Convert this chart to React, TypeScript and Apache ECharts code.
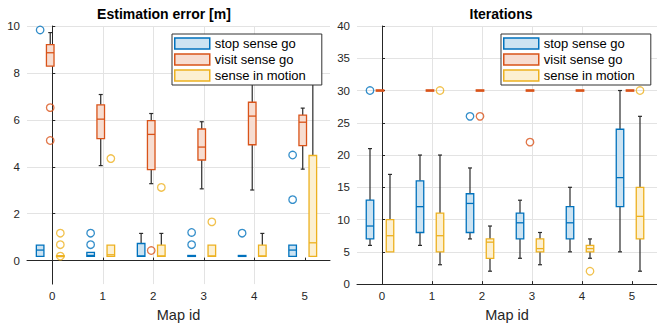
import React, { useEffect, useRef } from "react";
import * as echarts from "echarts";

// ---------- data ----------
const mapIds = [0, 1, 2, 3, 4, 5];
const seriesNames = ["stop sense go", "visit sense go", "sense in motion"];

// Estimation error [m]: [min, q1, median, q3, max] per map id
const errStop = [
  [0.18, 0.18, 0.45, 0.66, 0.66],
  [0.18, 0.18, 0.22, 0.35, 0.35],
  [0.18, 0.18, 0.2, 0.73, 1.16],
  [0.18, 0.18, 0.2, 0.22, 0.22],
  [0.18, 0.18, 0.2, 0.22, 0.22],
  [0.18, 0.18, 0.45, 0.66, 0.66],
];
const errVisit = [
  [8.29, 8.29, 8.86, 9.21, 9.72],
  [4.05, 5.2, 6.03, 6.64, 7.08],
  [3.28, 3.88, 5.38, 5.97, 6.27],
  [3.06, 4.29, 4.84, 5.61, 5.92],
  [3.01, 4.94, 6.16, 6.75, 8.6],
  [3.9, 4.9, 5.9, 6.2, 6.5],
];
const errMotion = [
  [0.17, 0.17, 0.19, 0.21, 0.21],
  [0.18, 0.18, 0.25, 0.66, 0.66],
  [0.18, 0.18, 0.2, 0.66, 1.16],
  [0.18, 0.18, 0.2, 0.66, 0.66],
  [0.18, 0.18, 0.2, 0.66, 1.16],
  [0.18, 0.18, 0.76, 4.48, 9.0],
];
const errStopOut = [[9.83], [1.17, 0.68], [], [1.2, 0.68], [1.17], [4.5, 2.6]];
const errVisitOut = [[6.52, 5.12], [], [0.43], [], [], []];
const errMotionOut = [[1.17, 0.68, 0.19], [4.35], [3.12], [1.65], [], []];

// Iterations: [min, q1, median, q3, max] per map id
const itStop = [
  [6, 7, 9, 13, 21],
  [6, 8, 12, 16, 20],
  [7, 8, 12.5, 14, 18],
  [4, 7, 9.5, 11, 13],
  [5, 7, 9.5, 12, 15],
  [5, 12, 16.5, 24, 30],
];
const itVisit = [
  [30, 29.9, 30, 30.1, 30],
  [30, 29.9, 30, 30.1, 30],
  [30, 29.9, 30, 30.1, 30],
  [30, 29.9, 30, 30.1, 30],
  [30, 29.9, 30, 30.1, 30],
  [30, 29.9, 30, 30.1, 30],
];
const itMotion = [
  [5, 5, 7.5, 10, 17],
  [3, 5, 7.5, 11, 20],
  [2, 4, 6.5, 7, 9],
  [3, 5, 5.5, 7, 8],
  [4, 5, 5.5, 6, 7],
  [2, 7, 10.5, 15, 26],
];
const itStopOut = [[30], [], [26], [], [], []];
const itVisitOut = [[], [], [26], [22], [], []];
const itMotionOut = [[], [30], [], [], [2], [30]];

const errTicks = [0, 2, 4, 6, 8, 10];
const itTicks = [0, 5, 10, 15, 20, 25, 30, 35, 40];

// ---------- styles ----------
const FONT = "'Liberation Sans', Arial, Helvetica, sans-serif";
const AXIS = "#262626";
const GRID = "#e3e3e3";
const WHISKER = "#2b2b2b";
const colors = ["#0072BD", "#D95319", "#EDB120"];
const fills = ["#cce3f2", "#f7ddd1", "#fcf0d2"];
const offsets = [-0.24, -0.04, 0.16];
const BOX_W = 0.15;
const CAP_W = 0.08;

function boxSeries(name: string, grid: number, data: number[][], k: number) {
  return {
    type: "custom",
    name,
    xAxisIndex: grid,
    yAxisIndex: grid,
    z: 2,
    data: mapIds.map((id, i) => [id, ...data[i]]),
    encode: { x: 0, y: [1, 2, 3, 4, 5] },
    renderItem: (params: any, api: any) => {
      const x = api.value(0) + offsets[k];
      const lo = api.value(1), q1 = api.value(2), md = api.value(3), q3 = api.value(4), hi = api.value(5);
      const cx = api.coord([x, md])[0];
      const y = (v: number) => api.coord([x, v])[1];
      const hw = api.size([BOX_W, 0])[0] / 2;
      const cw = api.size([CAP_W, 0])[0] / 2;
      const ws = { stroke: WHISKER, lineWidth: 1.2 };
      const children: any[] = [];
      if (hi > q3) {
        children.push({ type: "line", shape: { x1: cx, y1: y(q3), x2: cx, y2: y(hi) }, style: ws });
        children.push({ type: "line", shape: { x1: cx - cw, y1: y(hi), x2: cx + cw, y2: y(hi) }, style: ws });
      }
      if (lo < q1) {
        children.push({ type: "line", shape: { x1: cx, y1: y(q1), x2: cx, y2: y(lo) }, style: ws });
        children.push({ type: "line", shape: { x1: cx - cw, y1: y(lo), x2: cx + cw, y2: y(lo) }, style: ws });
      }
      children.push({
        type: "rect",
        shape: { x: cx - hw, y: y(q3), width: 2 * hw, height: y(q1) - y(q3) },
        style: { fill: fills[k], stroke: colors[k], lineWidth: 1.3 },
      });
      children.push({
        type: "line",
        shape: { x1: cx - hw, y1: y(md), x2: cx + hw, y2: y(md) },
        style: { stroke: colors[k], lineWidth: 1.3 },
      });
      return { type: "group", children };
    },
  };
}

function outlierSeries(name: string, grid: number, out: number[][], k: number) {
  const pts: number[][] = [];
  mapIds.forEach((id, i) => out[i].forEach((v) => pts.push([id + offsets[k], v])));
  return {
    type: "scatter",
    name: name + " outliers",
    xAxisIndex: grid,
    yAxisIndex: grid,
    z: 3,
    symbol: "circle",
    symbolSize: 7.5,
    itemStyle: { color: "rgba(255,255,255,0)", borderColor: colors[k], borderWidth: 1.3 },
    data: pts,
  };
}

function xAxis(grid: number) {
  return {
    type: "value",
    gridIndex: grid,
    min: -0.5,
    max: 5.5,
    minInterval: 1,
    maxInterval: 1,
    splitNumber: 6,
    name: "Map id",
    nameLocation: "middle",
    nameGap: 21,
    nameTextStyle: { fontSize: 14.5, color: AXIS, fontFamily: FONT },
    axisLine: { lineStyle: { color: AXIS, width: 1 } },
    axisTick: { inside: true, length: 3, lineStyle: { color: AXIS }, customValues: mapIds },
    axisLabel: {
      color: AXIS,
      fontSize: 11.5,
      margin: 6,
      fontFamily: FONT,
      customValues: mapIds,
      formatter: (v: number) => (Number.isInteger(v) && v >= 0 && v <= 5 ? String(v) : ""),
    },
    splitLine: { show: true, showMinLine: false, showMaxLine: false, lineStyle: { color: GRID } },
  };
}

function yAxis(grid: number, min: number, max: number, step: number, ticks: number[]) {
  return {
    type: "value",
    gridIndex: grid,
    min,
    max,
    minInterval: step,
    maxInterval: step,
    splitNumber: Math.round((max - min) / step),
    axisLine: { show: true, lineStyle: { color: AXIS, width: 1 } },
    axisTick: { show: true, inside: true, length: 3, lineStyle: { color: AXIS }, customValues: ticks },
    axisLabel: {
      color: AXIS,
      fontSize: 11.5,
      margin: 7,
      fontFamily: FONT,
      customValues: ticks,
      formatter: (v: number) => (ticks.indexOf(v) >= 0 ? String(v) : ""),
    },
    splitLine: { show: true, lineStyle: { color: GRID } },
  };
}

function legend(left: number) {
  return {
    left,
    top: 34,
    orient: "vertical",
    icon: "rect",
    itemWidth: 35,
    itemHeight: 11,
    itemGap: 3,
    padding: [3, 16, 3, 2],
    borderColor: "#333",
    borderWidth: 1,
    borderRadius: 0,
    backgroundColor: "#fff",
    selectedMode: false,
    textStyle: { fontSize: 13, color: "#000", fontFamily: FONT },
    data: seriesNames.map((n, k) => ({
      name: n,
      itemStyle: { color: fills[k], borderColor: colors[k], borderWidth: 1.5 },
    })),
  };
}

export default function App() {
  const ref = useRef<HTMLDivElement>(null);
  useEffect(() => {
    if (!ref.current) return;
    const chart = echarts.init(ref.current, undefined, { renderer: "svg" });
    chart.setOption({
      animation: false,
      backgroundColor: "#fff",
      textStyle: { fontFamily: FONT },
      title: [
        {
          text: "Estimation error [m]",
          left: 164,
          top: 7,
          padding: 0,
          textAlign: "center",
          textStyle: { fontSize: 14, fontWeight: "bold", color: "#000", fontFamily: FONT },
        },
        {
          text: "Iterations",
          left: 501,
          top: 7,
          padding: 0,
          textAlign: "center",
          textStyle: { fontSize: 14, fontWeight: "bold", color: "#000", fontFamily: FONT },
        },
      ],
      legend: [legend(172), legend(501)],
      grid: [
        { left: 27, top: 26, width: 303, height: 260 },
        { left: 357, top: 26, width: 303, height: 260 },
      ],
      xAxis: [xAxis(0), xAxis(1)],
      yAxis: [yAxis(0, -1, 10, 2, errTicks), yAxis(1, 0, 40, 5, itTicks)],
      series: [
        boxSeries(seriesNames[0], 0, errStop, 0),
        boxSeries(seriesNames[1], 0, errVisit, 1),
        boxSeries(seriesNames[2], 0, errMotion, 2),
        outlierSeries(seriesNames[0], 0, errStopOut, 0),
        outlierSeries(seriesNames[1], 0, errVisitOut, 1),
        outlierSeries(seriesNames[2], 0, errMotionOut, 2),
        boxSeries(seriesNames[0], 1, itStop, 0),
        boxSeries(seriesNames[1], 1, itVisit, 1),
        boxSeries(seriesNames[2], 1, itMotion, 2),
        outlierSeries(seriesNames[0], 1, itStopOut, 0),
        outlierSeries(seriesNames[1], 1, itVisitOut, 1),
        outlierSeries(seriesNames[2], 1, itMotionOut, 2),
      ],
    });
    return () => chart.dispose();
  }, []);
  return (
    <div
      ref={ref}
      style={{ position: "absolute", left: 0, top: 0, width: 657, height: 327 }}
    />
  );
}
